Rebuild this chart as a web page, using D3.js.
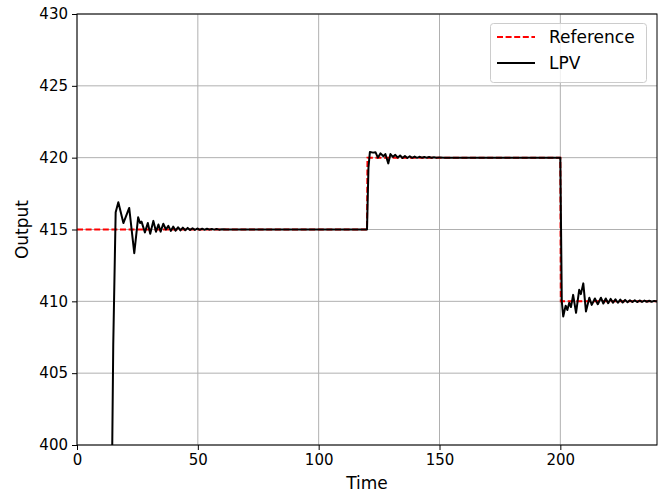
<!DOCTYPE html>
<html><head><meta charset="utf-8">
<script src="https://cdn.jsdelivr.net/npm/d3@7"></script>
<style>body{margin:0;background:#fff;} svg{display:block;font-family:"DejaVu Sans",sans-serif;}</style>
</head><body><svg id="c" width="668" height="494"></svg>
<script>
const xTicks = [0, 50, 100, 150, 200];
const yTicks = [400, 405, 410, 415, 420, 425, 430];
const seriesNames = ["Reference", "LPV"];

const refTime  = [0, 120, 120.2, 200, 200.2, 240];
const refValue = [415, 415, 420, 420, 410, 410];

const lpvTime = [
  13, 14, 15, 16, 17.1, 19.2, 21.6, 23.7, 25.3, 26.1, 26.7, 28.1, 29.3, 30.3, 31.6, 32.7, 33.7, 34.6, 35.7, 36.8, 37.8,
  38.8, 39.8, 40.8, 41.8, 42.8, 43.8, 44.8, 45.8, 46.8, 47.8, 48.8, 49.8, 50.8, 51.8, 52.8, 53.8, 54.8, 55.8, 56.8, 57.8, 58.8, 60, 62,
  120, 120.6, 121.2, 122.5, 123.5, 124.5, 125.6, 126.8, 127.6, 128.8, 129.7, 130.7, 131.7, 132.7, 133.7, 134.7, 135.7, 136.7, 137.7,
  138.7, 139.7, 140.7, 141.7, 142.7, 143.7, 144.7, 145.7, 146.7, 147.7, 148.7, 150, 152,
  200, 200.6, 201.2, 202.2, 202.9, 203.7, 204.4, 205.3, 206.5, 207.8, 208.5, 209.5, 210.6, 212, 213, 214.3, 215.5, 216.8, 217.8,
  218.8, 219.8, 220.8, 221.8, 222.8, 223.8, 224.8, 225.8, 226.8, 227.8, 228.8, 229.8, 230.8, 231.8, 232.8, 233.8, 234.8, 235.8,
  236.8, 237.8, 238.8, 240
];
const lpvValue = [
  375, 390, 407, 416.2, 416.9, 415.45, 416.5, 413.35, 415.85, 415.45, 415.55, 414.8, 415.45, 414.7, 415.6, 414.85, 415.35, 414.85, 415.4, 415.0, 415.25,
  414.9, 415.2, 414.92, 415.16, 414.94, 415.13, 414.95, 415.11, 414.96, 415.09, 414.97, 415.07, 414.98, 415.06, 414.98, 415.05, 414.99, 415.04, 414.99, 415.03, 414.99, 415.02, 415,
  415, 419.3, 420.4, 420.35, 420.38, 420.0, 420.3, 420.1, 420.25, 419.6, 420.25, 420.05, 420.2, 420.0, 420.15, 419.98, 420.12, 419.98, 420.1,
  419.99, 420.08, 419.99, 420.06, 420.0, 420.05, 420.0, 420.04, 420.0, 420.03, 420.0, 420.02, 420,
  420, 410, 408.95, 409.7, 409.4, 409.9, 409.6, 410.45, 409.2, 410.8, 410.5, 411.25, 409.3, 410.25, 409.75, 410.2, 409.8, 410.25, 409.85,
  410.2, 409.87, 410.17, 409.9, 410.14, 409.9, 410.12, 409.92, 410.1, 409.94, 410.08, 409.95, 410.07, 409.95, 410.06, 409.96, 410.05, 409.97,
  410.04, 409.97, 410.03, 409.98
];

const W = 668, H = 494;
const m = {left: 77, right: 11, top: 14, bottom: 49};
const svg = d3.select("#c");
const x = d3.scaleLinear().domain([0, 240]).range([m.left, W - m.right]);
const y = d3.scaleLinear().domain([400, 430]).range([H - m.bottom, m.top]);

svg.append("defs").append("clipPath").attr("id", "clip")
  .append("rect").attr("x", m.left).attr("y", m.top)
  .attr("width", W - m.left - m.right).attr("height", H - m.top - m.bottom);

// grid
const grid = svg.append("g").attr("stroke", "#b0b0b0").attr("stroke-width", 1);
grid.selectAll(".gx").data(xTicks).join("line")
  .attr("x1", d => x(d)).attr("x2", d => x(d)).attr("y1", m.top).attr("y2", H - m.bottom);
grid.selectAll(".gy").data(yTicks).join("line")
  .attr("y1", d => y(d)).attr("y2", d => y(d)).attr("x1", m.left).attr("x2", W - m.right);

// axes
const xAxis = svg.append("g").attr("transform", `translate(0,${H - m.bottom})`)
  .call(d3.axisBottom(x).tickValues(xTicks).tickSize(5).tickPadding(4).tickFormat(d3.format("d")));
const yAxis = svg.append("g").attr("transform", `translate(${m.left},0)`)
  .call(d3.axisLeft(y).tickValues(yTicks).tickSize(5).tickPadding(4).tickFormat(d3.format("d")));
[xAxis, yAxis].forEach(g => {
  g.select(".domain").remove();
  g.selectAll("text").attr("font-family", "DejaVu Sans").attr("font-size", 15).attr("fill", "#000");
  g.selectAll("line").attr("stroke", "#000");
});

const lineGen = d3.line().x(d => x(d[0])).y(d => y(d[1]));
const plot = svg.append("g").attr("clip-path", "url(#clip)");
plot.append("path").datum(refTime.map((t, i) => [t, refValue[i]]))
  .attr("d", lineGen).attr("fill", "none").attr("stroke", "#ff0000")
  .attr("stroke-width", 2).attr("stroke-dasharray", "6,2.6");
plot.append("path").datum(lpvTime.map((t, i) => [t, lpvValue[i]]))
  .attr("d", lineGen).attr("fill", "none").attr("stroke", "#000")
  .attr("stroke-width", 2).attr("stroke-linejoin", "round");

// frame
svg.append("rect").attr("x", m.left).attr("y", m.top)
  .attr("width", W - m.left - m.right).attr("height", H - m.top - m.bottom)
  .attr("fill", "none").attr("stroke", "#000").attr("stroke-width", 1);

// labels
svg.append("text").attr("x", (m.left + W - m.right) / 2).attr("y", 489)
  .attr("text-anchor", "middle").attr("font-size", 17).text("Time");
svg.append("text").attr("transform", `translate(28,${(m.top + H - m.bottom) / 2}) rotate(-90)`)
  .attr("text-anchor", "middle").attr("font-size", 17).text("Output");

// legend
const lg = svg.append("g");
lg.append("rect").attr("x", 490.5).attr("y", 23.5).attr("width", 156).attr("height", 59).attr("rx", 3)
  .attr("fill", "#fff").attr("fill-opacity", 0.8).attr("stroke", "#ccc");
const styles = [{c: "#ff0000", dash: "6,2.6"}, {c: "#000", dash: null}];
seriesNames.forEach((name, i) => {
  const yy = 37 + i * 26;
  lg.append("line").attr("x1", 497).attr("x2", 535).attr("y1", yy).attr("y2", yy)
    .attr("stroke", styles[i].c).attr("stroke-width", 2).attr("stroke-dasharray", styles[i].dash);
  lg.append("text").attr("x", 549).attr("y", yy + 6).attr("font-size", 17).text(name);
});
</script></body></html>
